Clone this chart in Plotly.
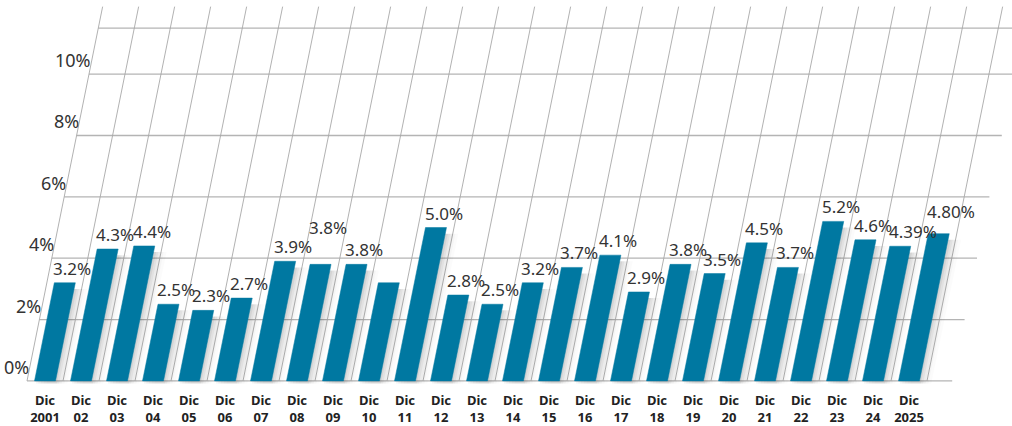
import plotly.graph_objects as go

# ---------------- data ----------------
years = ["2001", "02", "03", "04", "05", "06", "07", "08", "09", "10",
         "11", "12", "13", "14", "15", "16", "17", "18", "19", "20",
         "21", "22", "23", "24", "2025"]
values = [3.2, 4.3, 4.4, 2.5, 2.3, 2.7, 3.9, 3.8, 3.8, 3.2,
          5.0, 2.8, 2.5, 3.2, 3.7, 4.1, 2.9, 3.8, 3.5, 4.5,
          3.7, 5.2, 4.6, 4.39, 4.80]
value_labels = ["3.2%", "4.3%", "4.4%", "2.5%", "2.3%", "2.7%", "3.9%", "3.8%", "3.8%", "",
                "5.0%", "2.8%", "2.5%", "3.2%", "3.7%", "4.1%", "2.9%", "3.8%", "3.5%", "4.5%",
                "3.7%", "5.2%", "4.6%", "4.39%", "4.80%"]
y_ticks = [0, 2, 4, 6, 8, 10]
y_tick_text = ["0%", "2%", "4%", "6%", "8%", "10%"]

# ---------------- style ----------------
W, H = 1012, 426
PX_PER_CAT = 36.0
PX_PER_PCT = 31.0
SKEW = 0.2 * PX_PER_PCT / PX_PER_CAT      # category units per percent
BAR_W = 21.0 / PX_PER_CAT
BAR_COLOR = "rgb(0,120,161)"
TEXT = "#333333"
GRID_H = "#b4b4b4"
GRID_V = "#a8a8a8"
TOP_LINE = 11.5
VLINE_TOP = 12.2
MB = 38
X0 = -0.5 - 27.0 / PX_PER_CAT
X1 = X0 + W / PX_PER_CAT
Y0 = -0.1
Y1 = Y0 + (H - MB) / PX_PER_PCT
LABEL_RAISE = {7: 22, 24: 8}   # labels lifted to avoid neighbours (as in the original)

n = len(values)
fig = go.Figure()

def line(xs, ys, color, width):
    fig.add_trace(go.Scatter(x=xs, y=ys, mode="lines", line=dict(color=color, width=width),
                             hoverinfo="skip", showlegend=False))

# horizontal grid lines
for v in y_ticks + [TOP_LINE]:
    xl = -0.5 + SKEW * v
    xr = n - 0.5 + SKEW * v + 0.7
    line([xl, xr], [v, v], GRID_H, 1.3)

# slanted vertical grid lines (category boundaries)
for k in range(n + 1):
    b = k - 0.5
    line([b, b + SKEW * VLINE_TOP], [0, VLINE_TOP], GRID_V, 0.9)

# soft shadows
for off, a in [(0.04, 0.05), (0.1, 0.045), (0.17, 0.035), (0.25, 0.025), (0.33, 0.015)]:
    for i, v in enumerate(values):
        xs = [i - BAR_W / 2 + off, i + BAR_W / 2 + off, i + BAR_W / 2 + off + SKEW * v,
              i - BAR_W / 2 + off + SKEW * v, i - BAR_W / 2 + off]
        ys = [-0.08, -0.08, v - 0.2, v - 0.2, -0.08]
        fig.add_trace(go.Scatter(x=xs, y=ys, mode="lines", fill="toself",
                                 fillcolor=f"rgba(0,0,0,{a})", line=dict(width=0),
                                 hoverinfo="skip", showlegend=False))

# bars as skewed parallelograms
for i, v in enumerate(values):
    xs = [i - BAR_W / 2, i + BAR_W / 2, i + BAR_W / 2 + SKEW * v, i - BAR_W / 2 + SKEW * v, i - BAR_W / 2]
    ys = [0, 0, v, v, 0]
    fig.add_trace(go.Scatter(x=xs, y=ys, mode="lines", fill="toself", fillcolor=BAR_COLOR,
                             line=dict(width=0.5, color=BAR_COLOR), hoverinfo="skip",
                             showlegend=False))

annotations = []
# value labels
for i, (v, t) in enumerate(zip(values, value_labels)):
    if not t:
        continue
    annotations.append(dict(x=i - BAR_W / 2 + SKEW * v, y=v, text=t, showarrow=False,
                            xanchor="left", yanchor="bottom", xshift=-3,
                            yshift=1 + LABEL_RAISE.get(i, 0),
                            font=dict(family="Noto Sans", size=17, color=TEXT)))
# slanted y tick labels
for v, t in zip(y_ticks, y_tick_text):
    annotations.append(dict(x=-0.5 + SKEW * v, y=v, text=t, showarrow=False,
                            xanchor="right", yanchor="bottom", xshift=4, yshift=0,
                            font=dict(family="Noto Sans", size=18, color=TEXT)))

fig.update_layout(
    width=W, height=H, autosize=False,
    margin=dict(l=0, r=0, t=0, b=MB),
    paper_bgcolor="white", plot_bgcolor="white",
    showlegend=False,
    annotations=annotations,
    xaxis=dict(range=[X0, X1], showgrid=False, zeroline=False, showline=False,
               tickmode="array", tickvals=list(range(n)),
               ticktext=[f"<b>Dic</b><br><b>{y}</b>" for y in years],
               ticks="outside", ticklen=4, tickcolor="rgba(0,0,0,0)",
               tickfont=dict(family="Noto Sans", size=13, color="#222222"),
               fixedrange=True),
    yaxis=dict(range=[Y0, Y1], showgrid=False, zeroline=False, showline=False,
               showticklabels=False, fixedrange=True),
)

fig.write_html("out.html", config={"displayModeBar": False},
               post_script="document.body.style.margin='0px';")
